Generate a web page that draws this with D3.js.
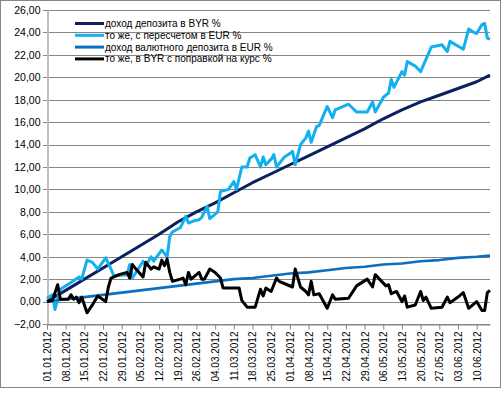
<!DOCTYPE html>
<html>
<head>
<meta charset="utf-8">
<script src="https://cdn.jsdelivr.net/npm/d3@7"></script>
<style>
  body { margin: 0; background: #fff; }
  svg { display: block; font-family: "Liberation Sans", Arial, sans-serif; }
  .grid line { stroke: #868686; stroke-width: 1; }
  .yaxis text, .xaxis text { fill: #000; }
</style>
</head>
<body>
<div id="chart"></div>
<script>
// weekly samples for the two smooth deposit lines
var weekDates = ["01.01.2012", "08.01.2012", "15.01.2012", "22.01.2012", "29.01.2012", "05.02.2012",
  "12.02.2012", "19.02.2012", "26.02.2012", "04.03.2012", "11.03.2012", "18.03.2012", "25.03.2012",
  "01.04.2012", "08.04.2012", "15.04.2012", "22.04.2012", "29.04.2012", "06.05.2012", "13.05.2012",
  "20.05.2012", "27.05.2012", "03.06.2012", "10.06.2012", "15.06.2012"];
var byrDeposit = [0, 1.0, 2.0, 3.0, 4.0, 5.0, 6.0, 7.1, 8.0, 8.8, 9.7, 10.6, 11.4,
  12.2, 13.0, 13.8, 14.6, 15.4, 16.3, 17.1, 17.8, 18.4, 19.0, 19.6, 20.2];
var eurDeposit = [0, 0.2, 0.4, 0.6, 0.8, 1.0, 1.2, 1.4, 1.6, 1.8, 2.0, 2.1, 2.3,
  2.5, 2.6, 2.8, 3.0, 3.1, 3.3, 3.4, 3.6, 3.7, 3.9, 4.0, 4.1];

// "то же, с пересчетом в EUR %"
var eurDates = ["01.01", "03.01", "04.01", "06.01", "10.01", "13.01", "14.01", "16.01", "18.01", "20.01",
  "23.01", "25.01", "26.01", "31.01", "01.02", "02.02", "06.02", "07.02", "09.02", "10.02",
  "13.02", "14.02", "15.02", "16.02", "17.02", "20.02", "22.02", "23.02", "25.02", "27.02",
  "28.02", "01.03", "02.03", "05.03", "06.03", "09.03", "11.03", "12.03", "14.03", "16.03",
  "17.03", "19.03", "21.03", "22.03", "23.03", "25.03", "26.03", "27.03", "30.03", "01.04",
  "02.04", "03.04", "05.04", "07.04", "08.04", "09.04", "11.04", "12.04", "15.04", "17.04",
  "18.04", "23.04", "26.04", "30.04", "02.05", "03.05", "06.05", "08.05", "09.05", "10.05",
  "13.05", "14.05", "15.05", "18.05", "20.05", "22.05", "24.05", "28.05", "30.05", "31.05",
  "05.06", "07.06", "09.06", "10.06", "12.06", "13.06", "14.06", "15.06"];
var byrInEur = [0.3, 0.6, -0.7, 1.1, 1.7, 2.2, 2.0, 3.7, 3.5, 2.9,
  3.9, 2.9, 2.3, 2.4, 3.3, 2.1, 3.6, 3.2, 4.0, 3.6,
  4.6, 4.3, 4.0, 5.8, 6.2, 6.6, 7.6, 7.0, 7.2, 7.3,
  7.5, 8.5, 7.4, 8.0, 9.8, 10.0, 10.7, 10.0, 12.0, 12.0,
  12.8, 13.1, 12.0, 12.9, 12.2, 12.7, 13.1, 12.0, 12.9, 13.2,
  13.4, 12.2, 14.0, 14.6, 15.2, 14.2, 15.6, 15.7, 17.4, 16.4,
  17.1, 17.6, 16.9, 16.9, 17.8, 16.9, 18.2, 18.6, 19.8, 19.1,
  20.5, 20.2, 21.4, 21.0, 20.5, 21.6, 22.7, 22.9, 22.3, 23.2,
  22.5, 24.3, 24.0, 23.9, 24.7, 24.8, 23.5, 23.4];

// "то же, в BYR с поправкой на курс %"
var rateDates = ["01.01", "03.01", "05.01", "06.01", "09.01", "10.01", "11.01", "12.01", "13.01", "14.01",
  "16.01", "18.01", "20.01", "23.01", "24.01", "25.01", "28.01", "31.01", "01.02", "02.02",
  "03.02", "06.02", "07.02", "09.02", "10.02", "12.02", "13.02", "14.02", "15.02", "16.02",
  "17.02", "20.02", "21.02", "22.02", "23.02", "24.02", "26.02", "27.02", "28.02", "29.02",
  "02.03", "04.03", "06.03", "07.03", "11.03", "13.03", "14.03", "16.03", "19.03", "21.03",
  "22.03", "23.03", "25.03", "27.03", "28.03", "31.03", "02.04", "03.04", "05.04", "07.04",
  "08.04", "09.04", "10.04", "12.04", "15.04", "17.04", "18.04", "23.04", "26.04", "30.04",
  "02.05", "03.05", "07.05", "08.05", "09.05", "11.05", "13.05", "14.05", "15.05", "18.05",
  "20.05", "21.05", "22.05", "24.05", "28.05", "30.05", "31.05", "03.06", "05.06", "07.06",
  "10.06", "12.06", "13.06", "14.06", "15.06"];
var eurInByr = [0, 0.1, 1.5, 0.2, 0.2, 0.6, 0.2, 0.4, -0.1, 0.4,
  -1.0, -0.3, 0.5, 0.0, 1.3, 2.1, 2.4, 2.6, 2.1, 3.3,
  3.0, 2.2, 3.5, 2.9, 3.1, 2.9, 3.7, 3.2, 3.8, 2.6,
  1.8, 2.0, 2.1, 1.5, 2.6, 2.0, 2.4, 2.6, 2.0, 2.0,
  2.9, 2.6, 2.1, 1.2, 1.2, 1.2, 0.1, -0.5, -0.5, 1.1,
  0.5, 1.2, 0.9, 2.1, 1.8, 1.5, 1.3, 2.9, 1.3, 0.9,
  0.6, 1.8, 0.6, 0.7, -0.6, 0.6, 0.2, 0.3, 1.4, 2.0,
  1.3, 2.4, 1.4, 1.5, 0.7, 0.9, 0.0, 0.5, -0.5, -0.3,
  0.9, 0.1, 0.4, -0.6, -0.5, 0.4, -0.1, 0.4, 0.8, -0.6,
  0.0, -0.8, -0.8, 0.8, 1.0];

var yTicks = [-2, 0, 2, 4, 6, 8, 10, 12, 14, 16, 18, 20, 22, 24, 26];
var xTicks = ["01.01.2012", "08.01.2012", "15.01.2012", "22.01.2012", "29.01.2012", "05.02.2012",
  "12.02.2012", "19.02.2012", "26.02.2012", "04.03.2012", "11.03.2012", "18.03.2012", "25.03.2012",
  "01.04.2012", "08.04.2012", "15.04.2012", "22.04.2012", "29.04.2012", "06.05.2012", "13.05.2012",
  "20.05.2012", "27.05.2012", "03.06.2012", "10.06.2012"];

var seriesNames = ["доход депозита в BYR %", "то же, с пересчетом в EUR %",
  "доход валютного депозита в EUR %", "то же, в BYR с поправкой на курс %"];
var seriesColors = ["#0a2060", "#12b0ee", "#0a6fc2", "#000000"];

var width = 504, height = 395;
var margin = {left: 47, top: 10, right: 14, bottom: 71};

var parseFull = d3.timeParse("%d.%m.%Y");
var parseShort = function (s) { return parseFull(s + ".2012"); };
var fmtComma = function (v) { return d3.format(".2f")(v).replace(".", ",").replace("-", "-"); };

var svg = d3.select("#chart").append("svg")
  .attr("width", width)
  .attr("height", height);

// outer chart frame
svg.append("rect")
  .attr("x", 0.5).attr("y", 0.5)
  .attr("width", 500).attr("height", 387)
  .attr("fill", "#fff")
  .attr("stroke", "#868686");

var x = d3.scaleTime()
  .domain([parseFull("01.01.2012"), parseFull("15.06.2012")])
  .range([margin.left, width - margin.right]);
var y = d3.scaleLinear()
  .domain([-2, 26])
  .range([height - margin.bottom, margin.top]);

var grid = svg.append("g").attr("class", "grid");
grid.selectAll("line")
  .data(yTicks)
  .enter().append("line")
  .attr("x1", margin.left - 4)
  .attr("x2", width - margin.right)
  .attr("y1", function (d) { return Math.round(y(d)) + 0.5; })
  .attr("y2", function (d) { return Math.round(y(d)) + 0.5; });

// y axis
var yAxis = svg.append("g")
  .attr("class", "yaxis")
  .attr("transform", "translate(" + (margin.left + 0.5) + ",0)")
  .call(d3.axisLeft(y).tickValues(yTicks).tickSize(0).tickPadding(7).tickFormat(fmtComma));
yAxis.select(".domain").attr("stroke", "#bfbfbf").attr("stroke-width", 2);
yAxis.selectAll("text").attr("font-size", "10.5px").attr("font-family", "Liberation Sans, Arial, sans-serif");

// x axis
var xAxis = svg.append("g")
  .attr("class", "xaxis")
  .attr("transform", "translate(0," + (Math.round(y(-2)) + 0.5) + ")")
  .call(d3.axisBottom(x).tickValues(xTicks.map(parseFull)).tickSize(5).tickSizeOuter(0)
    .tickFormat(d3.timeFormat("%d.%m.%Y")));
xAxis.select(".domain").attr("stroke", "#868686");
xAxis.selectAll(".tick line").attr("stroke", "#868686");
xAxis.selectAll("text")
  .attr("font-size", "10px")
  .attr("font-family", "Liberation Sans, Arial, sans-serif")
  .attr("text-anchor", "end")
  .attr("transform", "rotate(-90)")
  .attr("x", -7)
  .attr("y", 0)
  .attr("dy", "0.35em");

var line = d3.line()
  .x(function (d) { return x(d.date); })
  .y(function (d) { return y(d.value); });

var series = [
  weekDates.map(function (d, i) { return {date: parseFull(d), value: byrDeposit[i]}; }),
  eurDates.map(function (d, i) { return {date: parseShort(d), value: byrInEur[i]}; }),
  weekDates.map(function (d, i) { return {date: parseFull(d), value: eurDeposit[i]}; }),
  rateDates.map(function (d, i) { return {date: parseShort(d), value: eurInByr[i]}; })
];

svg.append("g").attr("class", "lines")
  .selectAll("path")
  .data(series)
  .enter().append("path")
  .attr("d", line)
  .attr("fill", "none")
  .attr("stroke", function (d, i) { return seriesColors[i]; })
  .attr("stroke-width", function (d, i) { return i === 2 ? 2.6 : 3; })
  .attr("stroke-linejoin", "round");

// legend
var legend = svg.append("g").attr("class", "legend")
  .selectAll("g")
  .data(seriesNames)
  .enter().append("g")
  .attr("transform", function (d, i) { return "translate(75," + (23.5 + i * 11.8) + ")"; });
legend.append("line")
  .attr("x1", 0).attr("x2", 29)
  .attr("stroke", function (d, i) { return seriesColors[i]; })
  .attr("stroke-width", 3);
legend.append("text")
  .attr("x", 30)
  .attr("dy", "0.35em")
  .attr("font-size", "10px")
  .attr("fill", "#000")
  .text(function (d) { return d; });
</script>
</body>
</html>
